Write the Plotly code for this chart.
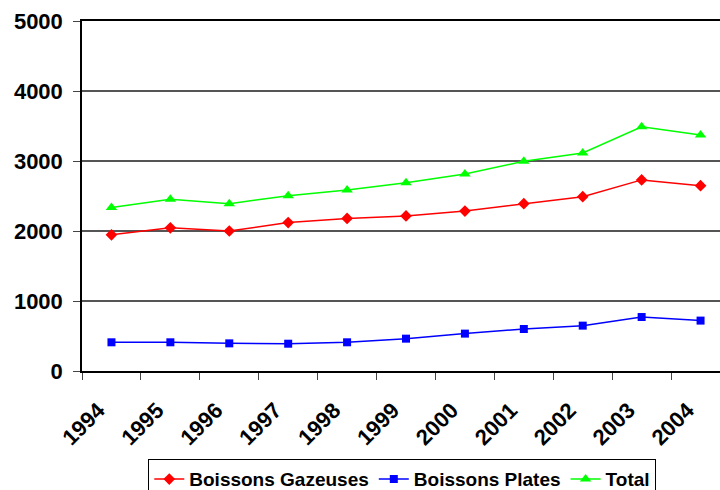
import plotly.graph_objects as go

years = ["1994", "1995", "1996", "1997", "1998", "1999", "2000", "2001", "2002", "2003", "2004"]
gazeuses = [1945, 2045, 2000, 2120, 2180, 2215, 2285, 2390, 2490, 2730, 2648]
plates = [410, 410, 395, 390, 410, 462, 534, 600, 648, 771, 720]
total = [2335, 2452, 2390, 2505, 2586, 2690, 2814, 2995, 3115, 3490, 3372]

FONT = "Liberation Sans, Arial, sans-serif"

fig = go.Figure()
fig.add_trace(go.Scatter(x=years, y=gazeuses, name="Boissons Gazeuses", mode="lines+markers",
                         line=dict(color="#FF0000", width=1.5),
                         marker=dict(symbol="diamond", size=9, color="#FF0000")))
fig.add_trace(go.Scatter(x=years, y=plates, name="Boissons Plates", mode="lines+markers",
                         line=dict(color="#0000FF", width=1.5),
                         marker=dict(symbol="square", size=8, color="#0000FF")))
fig.add_trace(go.Scatter(x=years, y=total, name="Total", mode="lines+markers",
                         line=dict(color="#00FF00", width=1.5),
                         marker=dict(symbol="triangle-up", size=10, color="#00FF00")))

fig.update_layout(
    width=720, height=490,
    margin=dict(l=82, r=0, t=21, b=119, autoexpand=False),
    paper_bgcolor="white", plot_bgcolor="white",
    font=dict(family=FONT, color="black"),
    showlegend=True,
    legend=dict(orientation="h", x=0.502, xanchor="center", y=-0.252, yanchor="top",
                bordercolor="black", borderwidth=1, bgcolor="white",
                font=dict(family=FONT, size=19, weight="bold", color="black"),
                itemwidth=30, tracegroupgap=0),
)
fig.update_xaxes(
    type="category", range=[-0.5, 10.33], automargin=False,
    showline=True, linecolor="black", linewidth=1.5, mirror=True,
    ticks="outside", tickson="boundaries", ticklen=7, tickcolor="#444", tickwidth=1,
    tickangle=-45, tickfont=dict(family=FONT, size=22, weight="bold", color="black"),
    ticklabelstandoff=16, ticklabelshift=-13,
    showgrid=False, zeroline=False,
)
fig.update_yaxes(
    range=[0, 5000], tickvals=[0, 1000, 2000, 3000, 4000, 5000], automargin=False,
    showline=True, linecolor="black", linewidth=1.5,
    ticks="outside", ticklen=7, tickcolor="#444", tickwidth=1,
    tickfont=dict(family=FONT, size=22, weight="bold", color="black"),
    ticklabelstandoff=6,
    showgrid=True, gridcolor="#555", gridwidth=1.5, zeroline=False,
)

fig.write_html("out.html", config={"displayModeBar": False},
               post_script="document.body.style.margin='0';document.body.style.overflow='hidden';")
